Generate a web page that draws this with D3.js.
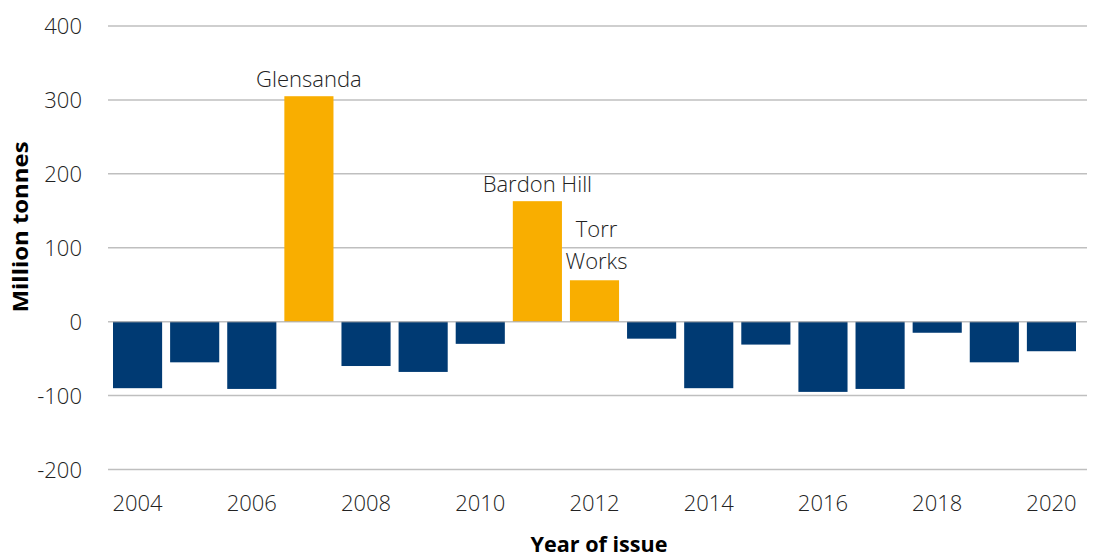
<!DOCTYPE html>
<html><head><meta charset="utf-8">
<script src="https://cdn.jsdelivr.net/npm/d3@7"></script>
<style>
body{margin:0;background:#fff;}
text{font-family:"Open Sans",sans-serif;}
</style></head>
<body><svg id="c" width="1095" height="559"></svg>
<script>
const years = [2004,2005,2006,2007,2008,2009,2010,2011,2012,2013,2014,2015,2016,2017,2018,2019,2020];
const values = [-90,-55,-91,305,-60,-68,-30,163,56,-23,-90,-31,-95,-91,-15,-55,-40];
const yTicks = [-200,-100,0,100,200,300,400];
const xTickYears = [2004,2006,2008,2010,2012,2014,2016,2018,2020];
const annotations = [
  {year:2007, lines:["Glensanda"]},
  {year:2011, lines:["Bardon Hill"]},
  {year:2012, lines:["Torr","Works"]}
];

const svg = d3.select("#c");
const gridLeft = 108, gridRight = 1087;
const x = d3.scaleBand().domain(years).range([109,1080]).paddingInner(0.14).paddingOuter(0.07);
const y = d3.scaleLinear().domain([-200,400]).range([469.5,26]);
const FS = 22;

// gridlines
svg.append("g").selectAll("line").data(yTicks.filter(d=>d!==0)).join("line")
  .attr("x1",gridLeft).attr("x2",gridRight)
  .attr("y1",d=>y(d)).attr("y2",d=>y(d))
  .attr("stroke","#bfbfbf").attr("stroke-width",1.5);

// bars
svg.append("g").selectAll("rect").data(years).join("rect")
  .attr("x",d=>x(d))
  .attr("width",x.bandwidth())
  .attr("y",(d,i)=>values[i]>=0?y(values[i]):y(0))
  .attr("height",(d,i)=>Math.abs(y(values[i])-y(0)))
  .attr("fill",(d,i)=>values[i]>=0?"#f9ae00":"#003a73");

// zero line
svg.append("line").attr("x1",gridLeft).attr("x2",gridRight)
  .attr("y1",y(0)).attr("y2",y(0))
  .attr("stroke","#a6a6a6").attr("stroke-opacity",0.7).attr("stroke-width",1.5);

// y axis labels
const yAxis = d3.axisLeft(y).tickValues(yTicks).tickSize(0).tickPadding(0).tickFormat(d=>String(d));
const gy = svg.append("g").attr("transform","translate(82,0)").call(yAxis);
gy.select(".domain").remove();
gy.selectAll("text").attr("font-size",FS).attr("font-weight",300).attr("fill","#222")
  .attr("font-family","'Open Sans',sans-serif").attr("dy","0.36em");

// x axis labels
const xAxis = d3.axisBottom(x).tickValues(xTickYears).tickSize(0).tickPadding(0).tickFormat(d=>String(d));
const gx = svg.append("g").attr("transform","translate(0,511)").call(xAxis);
gx.select(".domain").remove();
gx.selectAll("text").attr("font-size",FS).attr("font-weight",300).attr("fill","#222")
  .attr("font-family","'Open Sans',sans-serif").attr("dy","0");

// annotations
annotations.forEach(a=>{
  const i = years.indexOf(a.year);
  const cx = x(a.year)+x.bandwidth()/2;
  const top = y(values[i]);
  const n = a.lines.length;
  a.lines.forEach((t,k)=>{
    svg.append("text").attr("x",cx+(n>1?2:0)).attr("y",top-(n>1?11:9)-(n-1-k)*32)
      .attr("text-anchor","middle").attr("font-size",FS).attr("font-weight",300)
      .attr("fill","#222").text(t);
  });
});

// axis titles
svg.append("text").attr("transform","translate(28,227) rotate(-90)")
  .attr("text-anchor","middle").attr("font-size",FS).attr("font-weight",700)
  .attr("fill","#000").attr("textLength",171).attr("lengthAdjust","spacingAndGlyphs").text("Million tonnes");
svg.append("text").attr("x",599).attr("y",552)
  .attr("text-anchor","middle").attr("font-size",FS).attr("font-weight",700)
  .attr("fill","#000").attr("textLength",137).attr("lengthAdjust","spacingAndGlyphs").text("Year of issue");
</script></body></html>
